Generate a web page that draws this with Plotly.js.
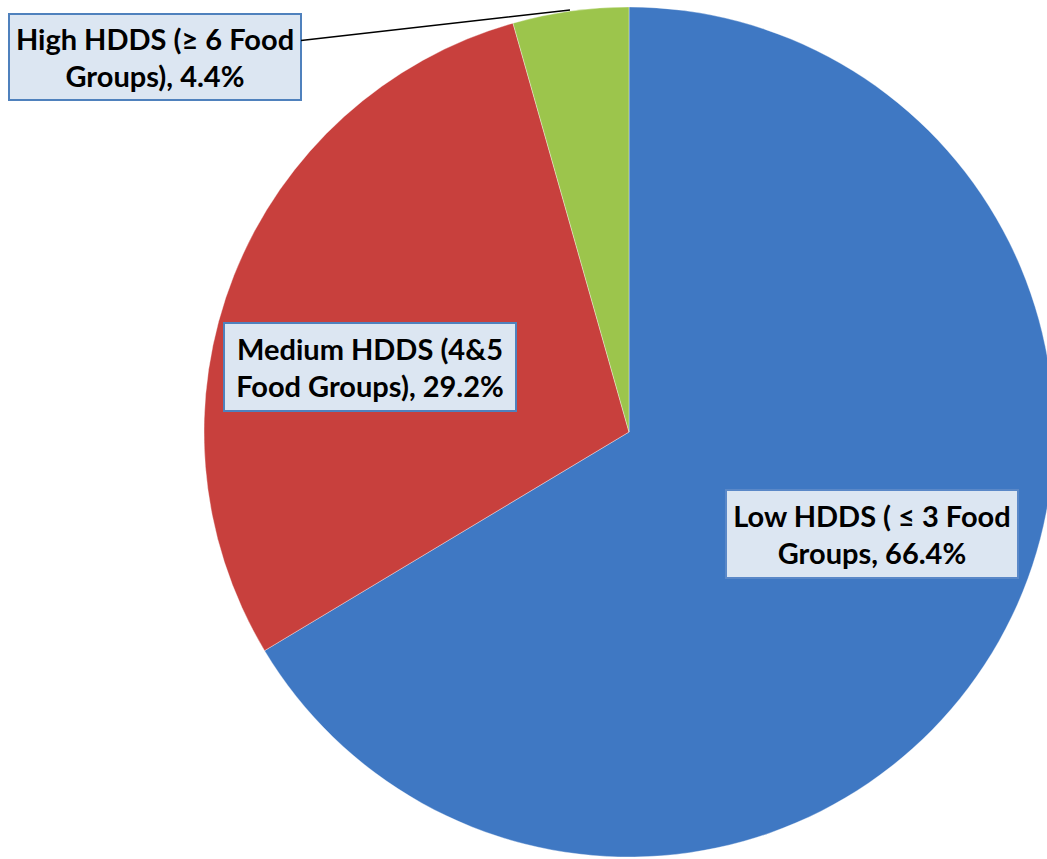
<!DOCTYPE html>
<html>
<head>
<meta charset="utf-8">
<script src="https://cdn.plot.ly/plotly-3.0.1.min.js"></script>
<style>
html,body{margin:0;padding:0;overflow:hidden;background:#fff;}
#chart{width:1060px;height:859px;}
</style>
</head>
<body>
<div id="chart"></div>
<script>
var categories = ["Low HDDS ( \u2264 3 Food Groups", "Medium HDDS (4&5 Food Groups)", "High HDDS (\u2265 6 Food Groups)"];
var values = [66.4, 29.2, 4.4];
var labelLines = [
  ["Low HDDS ( \u2264 3 Food", "Groups, 66.4%"],
  ["Medium HDDS (4&5", "Food Groups), 29.2%"],
  ["High HDDS (\u2265 6 Food", "Groups), 4.4%"]
];
var colors = ["#3f78c3", "#c8403d", "#9cc54c"];

var W = 1060, H = 859;
function px(x){ return x / W; }
function py(y){ return 1 - y / H; }

var trace = {
  type: "pie",
  labels: categories,
  values: values,
  sort: false,
  direction: "clockwise",
  rotation: 0,
  textinfo: "none",
  hoverinfo: "label+percent",
  marker: {colors: colors, line: {color: "rgba(255,255,255,0.35)", width: 1}},
  domain: {x: [px(204), px(1054)], y: [py(857), py(7)]},
  showlegend: false
};

var boxFont = {family: "Lato, 'Open Sans', sans-serif", size: 29, color: "#000", weight: "bold"};
var boxStyle = {bgcolor: "#dce6f2", bordercolor: "#4f81bd", borderwidth: 2, borderpad: 3, xanchor: "center", yanchor: "middle"};
function boxText(lines){ return lines.map(function(s){ return "<b>" + s + "</b>"; }).join("<br>"); }

var annotations = [
  Object.assign({xref: "paper", yref: "paper", x: px(872), y: py(534), text: boxText(labelLines[0]), showarrow: false, font: boxFont, width: 284, height: 80}, boxStyle, {bordercolor: "#5a88c8"}),
  Object.assign({xref: "paper", yref: "paper", x: px(370), y: py(367), text: boxText(labelLines[1]), showarrow: false, font: boxFont, width: 284, height: 80}, boxStyle),
  Object.assign({xref: "paper", yref: "paper", x: px(570), y: py(10), axref: "pixel", ayref: "pixel", ax: 155 - 570, ay: 57 - 10, text: boxText(labelLines[2]), showarrow: true, arrowhead: 0, arrowwidth: 1.5, arrowcolor: "#000", font: boxFont, width: 284, height: 78}, boxStyle)
];

var layout = {
  width: W, height: H,
  margin: {l: 0, r: 0, t: 0, b: 0},
  paper_bgcolor: "#fff",
  annotations: annotations
};

Plotly.newPlot("chart", [trace], layout, {displayModeBar: false, staticPlot: true});
</script>
</body>
</html>
